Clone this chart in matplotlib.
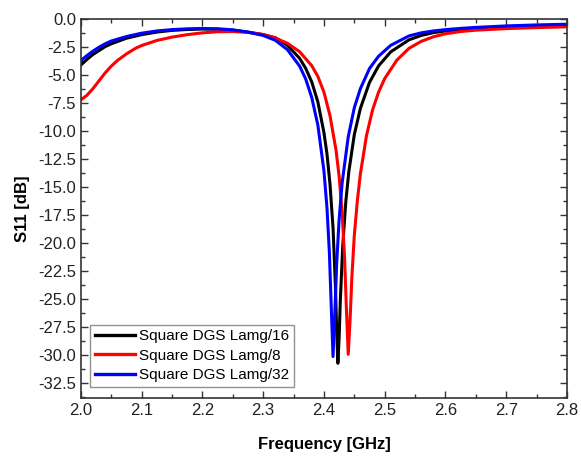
import matplotlib
matplotlib.use("Agg")
import matplotlib.pyplot as plt
from matplotlib.ticker import MultipleLocator, FormatStrFormatter

plt.rcParams["font.family"] = ["Liberation Sans", "DejaVu Sans"]

# ── data ──────────────────────────────────────────────────────────────────────
freq_l16 = [2.000, 2.010, 2.020, 2.030, 2.040, 2.050, 2.075, 2.100, 2.125, 2.150,
            2.175, 2.200, 2.225, 2.250, 2.275, 2.300, 2.320, 2.340, 2.360, 2.370,
            2.380, 2.390, 2.400, 2.405, 2.410, 2.415, 2.419, 2.421, 2.423, 2.425,
            2.427, 2.431, 2.436, 2.441, 2.450, 2.460, 2.475, 2.490, 2.510, 2.540,
            2.560, 2.580, 2.600, 2.625, 2.650, 2.700, 2.750, 2.800]
s11_l16 = [-4.10, -3.60, -3.15, -2.80, -2.45, -2.20, -1.70, -1.38, -1.15, -1.00,
           -0.92, -0.88, -0.90, -0.98, -1.15, -1.38, -1.65, -2.33, -3.49, -4.38,
           -5.60, -7.37, -10.1, -12.0, -14.7, -18.6, -23.9, -27.8, -30.7, -28.5,
           -25.1, -20.2, -16.3, -13.6, -10.3, -7.96, -5.64, -4.16, -2.91, -1.84,
           -1.45, -1.20, -1.05, -0.92, -0.82, -0.68, -0.59, -0.53]

freq_l8 = [2.000, 2.010, 2.020, 2.030, 2.040, 2.050, 2.060, 2.075, 2.090, 2.100,
           2.125, 2.150, 2.175, 2.200, 2.225, 2.250, 2.275, 2.300, 2.320, 2.340,
           2.360, 2.380, 2.390, 2.400, 2.410, 2.420, 2.425, 2.430, 2.434, 2.437,
           2.440, 2.443, 2.446, 2.450, 2.455, 2.460, 2.470, 2.480, 2.490, 2.500,
           2.520, 2.540, 2.560, 2.580, 2.600, 2.625, 2.650, 2.700, 2.750, 2.800]
s11_l8 = [-7.20, -6.80, -6.20, -5.50, -4.80, -4.20, -3.70, -3.10, -2.60, -2.35,
          -1.90, -1.60, -1.38, -1.22, -1.12, -1.10, -1.18, -1.36, -1.68, -2.15,
          -2.90, -4.15, -5.10, -6.50, -8.60, -11.7, -14.0, -17.3, -21.3, -25.8,
          -29.9, -26.9, -23.0, -19.3, -16.2, -13.8, -10.4, -8.10, -6.50, -5.30,
          -3.65, -2.60, -1.98, -1.57, -1.30, -1.10, -0.98, -0.84, -0.75, -0.68]

freq_l32 = [2.000, 2.010, 2.020, 2.030, 2.040, 2.050, 2.075, 2.100, 2.125, 2.150,
            2.175, 2.200, 2.225, 2.250, 2.275, 2.300, 2.320, 2.340, 2.360, 2.370,
            2.380, 2.390, 2.400, 2.405, 2.409, 2.412, 2.415, 2.418, 2.421, 2.425,
            2.430, 2.440, 2.450, 2.460, 2.475, 2.490, 2.510, 2.540, 2.560, 2.580,
            2.600, 2.625, 2.650, 2.700, 2.750, 2.800]
s11_l32 = [-3.70, -3.25, -2.85, -2.50, -2.20, -1.95, -1.55, -1.25, -1.05, -0.93,
           -0.86, -0.83, -0.85, -0.95, -1.15, -1.45, -1.88, -2.72, -4.18, -5.33,
           -6.99, -9.43, -13.5, -16.8, -20.8, -25.5, -30.1, -26.2, -21.8, -17.9,
           -14.6, -10.5, -7.90, -6.20, -4.40, -3.30, -2.33, -1.49, -1.22, -1.05,
           -0.93, -0.82, -0.73, -0.60, -0.51, -0.45]

series = [
    (freq_l16, s11_l16, "black", "Square DGS Lamg/16"),
    (freq_l8,  s11_l8,  "#ff0000", "Square DGS Lamg/8"),
    (freq_l32, s11_l32, "#0000ff", "Square DGS Lamg/32"),
]

fig = plt.figure(figsize=(5.81, 4.57), dpi=100)
ax = fig.add_axes([0.139, 0.129, 0.837, 0.829])

for f, s, col, lab in series:
    ax.plot(f, s, color=col, lw=2.2, label=lab)

ax.set_xlim(2.0, 2.8)
ax.set_ylim(-33.8, 0.0)
ax.xaxis.set_major_locator(MultipleLocator(0.1))
ax.xaxis.set_minor_locator(MultipleLocator(0.05))
ax.yaxis.set_major_locator(MultipleLocator(2.5))
ax.yaxis.set_minor_locator(MultipleLocator(1.25))
ax.xaxis.set_major_formatter(FormatStrFormatter("%.1f"))
ax.yaxis.set_major_formatter(FormatStrFormatter("%.1f"))

ax.tick_params(which="both", direction="in", top=True, right=True,
               colors="#333333", labelcolor="#222222", labelsize=12)
ax.tick_params(which="major", length=5, width=1)
ax.tick_params(which="minor", length=3, width=1)
for spine in ax.spines.values():
    spine.set_color("#333333")
    spine.set_linewidth(1.2)

ax.set_xlabel("Frequency [GHz]", fontsize=12, fontweight="bold", labelpad=14)
ax.set_ylabel("S11 [dB]", fontsize=12, fontweight="bold", labelpad=6)

leg = ax.legend(loc="lower left", bbox_to_anchor=(0.02, 0.03), fontsize=11,
                frameon=True, fancybox=False, edgecolor="#777777",
                handlelength=2.6, handletextpad=0.3, borderpad=0.3,
                labelspacing=0.35, borderaxespad=0)
for ln in leg.get_lines():
    ln.set_linewidth(2.4)

fig.savefig("out.png", dpi=100, facecolor="white")
